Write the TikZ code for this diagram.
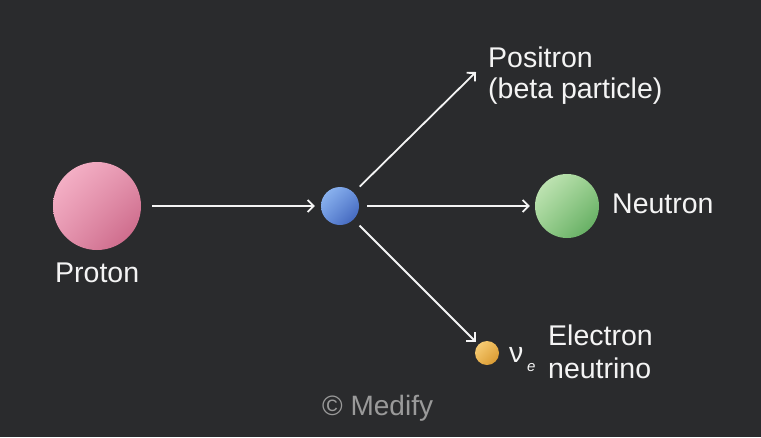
\documentclass[tikz,border=0pt]{standalone}
\usepackage{fontspec}
\setmainfont{Liberation Sans}
\usetikzlibrary{arrows.meta,calc,shadings}
\definecolor{bg}{HTML}{2A2B2D}
\definecolor{txt}{HTML}{F4F4F4}
\definecolor{gray}{HTML}{9A9A9A}
\definecolor{pA}{RGB}{250,186,206}\definecolor{pB}{RGB}{228,148,174}\definecolor{pC}{RGB}{198,94,128}
\definecolor{bA}{RGB}{150,190,245}\definecolor{bB}{RGB}{105,145,220}\definecolor{bC}{RGB}{55,90,180}
\definecolor{nA}{RGB}{205,235,192}\definecolor{nB}{RGB}{150,205,140}\definecolor{nC}{RGB}{85,165,85}
\definecolor{oA}{RGB}{250,212,130}\definecolor{oB}{RGB}{235,180,80}\definecolor{oC}{RGB}{210,145,40}
\tikzset{
  lbl/.style={anchor=base west, inner sep=0pt, text=txt, font=\fontsize{28.5}{31}\selectfont},
  arr/.style={draw=txt, line width=1.8pt, -{Straight Barb[length=6pt,width=12pt,line width=1.8pt]}},
  ball/.style={circle, inner sep=0pt, draw=none},
}
\begin{document}
\begin{tikzpicture}[x=1pt,y=-1pt]
\fill[bg] (0,0) rectangle (761,437);
\useasboundingbox (0,0) rectangle (761,437);
% particles
\node[ball, minimum size=88pt] (p) at (97,206) {};
\shade[upper left=pA, upper right=pB, lower left=pB, lower right=pC] (97,206) circle[radius=44];
\node[ball, minimum size=38pt] (b) at (340,206) {};
\shade[upper left=bA, upper right=bB, lower left=bB, lower right=bC] (340,206) circle[radius=19];
\node[ball, minimum size=64pt] (n) at (567,206) {};
\shade[upper left=nA, upper right=nB, lower left=nB, lower right=nC] (567,206) circle[radius=32];
\node[ball, minimum size=24pt] (nu) at (487,353) {};
\shade[upper left=oA, upper right=oB, lower left=oB, lower right=oC] (487,353) circle[radius=12];
\coordinate (pe) at (476,72);
% arrows
\draw[arr, shorten <=11pt, shorten >=6pt] (p) -- (b);
\draw[arr, shorten <=8pt, shorten >=5pt] (b) -- (n);
\draw[arr, shorten <=8.5pt] (b) -- (pe);
\draw[arr, shorten <=8.5pt, shorten >=4pt] (b) -- (nu);
% labels
\node[lbl] (lp) at (55,282) {Proton};
\node[lbl] (l1) at (488,67) {Positron};
\node[lbl] (l2) at (488,98) {(beta particle)};
\node[lbl] (ln) at (612,213) {Neutron};
\node[lbl] (le1) at (548,345) {Electron};
\node[lbl] (le2) at (548,378) {neutrino};
\node[lbl] (nusym) at (509,362) {ν};
\node[anchor=base west, inner sep=0pt, text=txt, font=\fontsize{15}{16}\selectfont\itshape] (esub) at (527,371) {e};
\node[anchor=base west, inner sep=0pt, text=gray, font=\fontsize{28}{30}\selectfont] (cr) at (322,415) {© Medify};
\end{tikzpicture}
\end{document}
